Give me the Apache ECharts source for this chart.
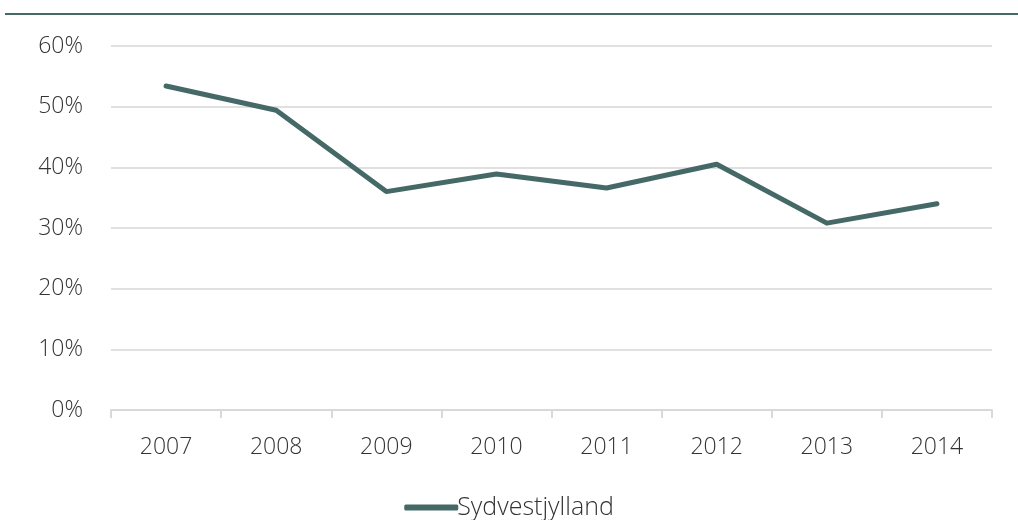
<!DOCTYPE html>
<html>
<head>
<meta charset="utf-8">
<script src="https://cdn.jsdelivr.net/npm/echarts@6/dist/echarts.min.js"></script>
<style>
  html, body { margin: 0; padding: 0; background: #fff; }
  #chart { width: 1018px; height: 520px; }
</style>
</head>
<body>
<div id="chart"></div>
<script>
const years = ['2007', '2008', '2009', '2010', '2011', '2012', '2013', '2014'];
const sydvestjylland = [53.4, 49.4, 36.0, 38.9, 36.6, 40.5, 30.8, 34.0];
const seriesName = 'Sydvestjylland';

const font = '"Open Sans", "Segoe UI", sans-serif';
const lineColor = '#456966';

const chart = echarts.init(document.getElementById('chart'));
chart.setOption({
  animation: false,
  textStyle: { fontFamily: font },
  graphic: [{
    type: 'line',
    shape: { x1: 5, y1: 14, x2: 1018, y2: 14 },
    style: { stroke: lineColor, lineWidth: 2 }
  }],
  grid: { left: 111, right: 26, top: 46, bottom: 110 },
  legend: {
    bottom: -5,
    left: 'center',
    itemWidth: 54,
    itemHeight: 6,
    icon: 'roundRect',
    itemGap: 0,
    textStyle: { fontSize: 25, fontWeight: 300, color: '#333', fontFamily: font, padding: [0, 0, 0, -6] },
    data: [seriesName]
  },
  xAxis: {
    type: 'category',
    data: years,
    boundaryGap: true,
    axisLine: { lineStyle: { color: '#d9d9d9', width: 2 } },
    axisTick: { show: true, length: 8, lineStyle: { color: '#d9d9d9', width: 2 } },
    axisLabel: { fontSize: 23, fontWeight: 300, color: '#333', margin: 26 }
  },
  yAxis: {
    type: 'value',
    min: 0,
    max: 60,
    interval: 10,
    axisLine: { show: false },
    axisTick: { show: false },
    splitLine: { lineStyle: { color: '#e0e0e0', width: 2 } },
    axisLabel: { fontSize: 23, fontWeight: 300, color: '#333', margin: 28, formatter: '{value}%' }
  },
  series: [{
    name: seriesName,
    type: 'line',
    data: sydvestjylland,
    symbol: 'none',
    lineStyle: { color: lineColor, width: 5, cap: 'round', join: 'round' },
    itemStyle: { color: lineColor }
  }]
});
</script>
</body>
</html>
